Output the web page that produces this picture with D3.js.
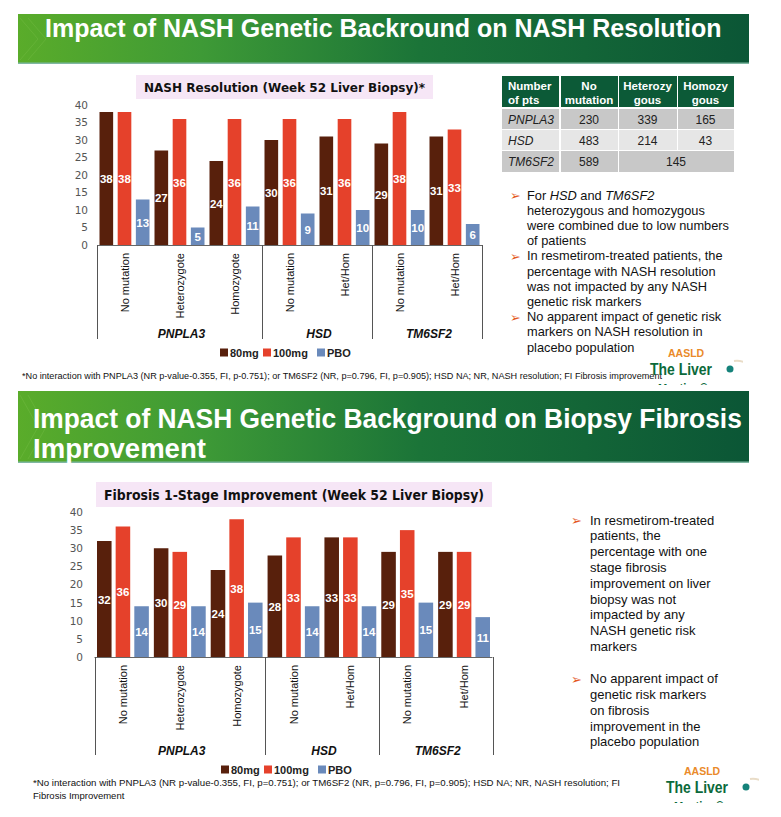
<!DOCTYPE html>
<html>
<head>
<meta charset="utf-8">
<script src="https://cdn.jsdelivr.net/npm/d3@7"></script>
<style>
  html, body { margin: 0; padding: 0; background: #fff; }
  svg { display: block; }
</style>
</head>
<body>
<svg id="slide" width="781" height="817"></svg>
<script>
// ---------------- DATA ----------------
const categories = ["No mutation", "Heterozygote", "Homozygote", "No mutation", "Het/Hom", "No mutation", "Het/Hom"];
const genes = ["PNPLA3", "HSD", "TM6SF2"];
const geneSizes = [3, 2, 2];
const seriesNames = ["80mg", "100mg", "PBO"];
const seriesColors = ["#58200c", "#e5412b", "#6a8abb"];
const yTicks = [0, 5, 10, 15, 20, 25, 30, 35, 40];

// NASH resolution (%)
const nash80 = [38, 27, 24, 30, 31, 29, 31];
const nash100 = [38, 36, 36, 36, 36, 38, 33];
const nashPBO = [13, 5, 11, 9, 10, 10, 6];

// Fibrosis 1-stage improvement (%)
const fib80 = [32, 30, 24, 28, 33, 29, 29];
const fib100 = [36, 29, 38, 33, 33, 35, 29];
const fibPBO = [14, 14, 15, 14, 14, 15, 11];

// Number of patients table
const tableHeader = [["Number", "of pts"], ["No", "mutation"], ["Heterozy", "gous"], ["Homozy", "gous"]];
const tableGenes = ["PNPLA3", "HSD", "TM6SF2"];
const tableNoMut = ["230", "483", "589"];
const tableHet = ["339", "214", "145"];
const tableHom = ["165", "43", ""];

const title1 = "Impact of NASH Genetic Backround on NASH Resolution";
const title2a = "Impact of NASH Genetic Background on Biopsy Fibrosis";
const title2b = "Improvement";
const chartTitle1 = "NASH Resolution (Week 52 Liver Biopsy)*";
const chartTitle2 = "Fibrosis 1-Stage Improvement (Week 52 Liver Biopsy)";
const footnote1 = "*No interaction with PNPLA3 (NR p-value-0.355, FI, p-0.751); or TM6SF2 (NR, p=0.796, FI, p=0.905); HSD NA; NR, NASH resolution; FI Fibrosis improvement";
const footnote2a = "*No interaction with PNPLA3 (NR p-value-0.355, FI, p=0.751); or TM6SF2 (NR, p=0.796, FI, p=0.905); HSD NA; NR, NASH resolution; FI";
const footnote2b = "Fibrosis Improvement";

const bullets1 = [
  [[["For ", false], ["HSD", true], [" and ", false], ["TM6SF2", true]], "heterozygous and homozygous", "were combined due to low numbers", "of patients"],
  ["In resmetirom-treated patients, the", "percentage with NASH resolution", "was not impacted by any NASH", "genetic risk markers"],
  ["No apparent impact of genetic risk", "markers on NASH resolution in", "placebo population"]
];
const bullets2 = [
  ["In resmetirom-treated", "patients, the", "percentage with one", "stage fibrosis", "improvement on liver", "biopsy was not", "impacted by any", "NASH genetic risk", "markers"],
  ["No apparent impact of", "genetic risk markers", "on fibrosis", "improvement in the", "placebo population"]
];

// ---------------- DRAWING ----------------
const svg = d3.select("#slide");
const defs = svg.append("defs");
const grad = defs.append("linearGradient").attr("id", "bannerGrad").attr("x1", "0").attr("x2", "1").attr("y1", "0").attr("y2", "0");
grad.append("stop").attr("offset", "0%").attr("stop-color", "#5aac2a");
grad.append("stop").attr("offset", "25%").attr("stop-color", "#3e9a36");
grad.append("stop").attr("offset", "55%").attr("stop-color", "#1b7438");
grad.append("stop").attr("offset", "100%").attr("stop-color", "#0b5636");

const narrow = "'Liberation Sans Narrow', 'Arial Narrow', 'Liberation Sans', Arial, sans-serif";
const sans = "'Liberation Sans', Arial, sans-serif";

// text squeezed horizontally to a target width (keeps its box inside the page)
function squeezedText(parent, str, x, y, fs, w, fill, weight) {
  const g = parent.append("g");
  const t = g.append("text").attr("x", 0).attr("y", 0).text(str)
    .attr("font-family", narrow).attr("font-weight", weight || "bold").attr("font-size", fs).attr("fill", fill);
  const nat = t.node().getComputedTextLength();
  const sx = Math.min(1, w / nat);
  g.attr("transform", `translate(${x},${y}) scale(${sx},1)`);
  return g;
}

function banner(y, h, lines) {
  const g = svg.append("g");
  g.append("rect").attr("x", 18).attr("y", y).attr("width", 731).attr("height", h).attr("fill", "url(#bannerGrad)");
  [0, 8].forEach(o => {
    g.append("path")
      .attr("d", `M${20 + o},${y + 4} L${38 + o},${y + h / 2} L${20 + o},${y + h - 4}`)
      .attr("fill", "none").attr("stroke", "#7cc04a").attr("stroke-opacity", 0.35).attr("stroke-width", 1);
  });
  g.append("rect").attr("x", 18).attr("y", y + h - 1.5).attr("width", 731).attr("height", 1.5).attr("fill", "#7fb7a2");
  lines.forEach(l => squeezedText(g, l.t, l.x, l.y, l.fs, l.w, "#fff"));
}

banner(14, 50, [{ t: title1, x: 45, y: 37, fs: 25, w: 683 }]);
banner(391, 72, [{ t: title2a, x: 33, y: 428, fs: 28, w: 709 }, { t: title2b, x: 33, y: 458, fs: 28, w: 173 }]);

function drawChart(cfg) {
  const g = svg.append("g");
  const vals = [cfg.s80, cfg.s100, cfg.sPBO];

  g.append("rect").attr("x", cfg.tbox[0]).attr("y", cfg.tbox[1]).attr("width", cfg.tbox[2]).attr("height", cfg.tbox[3]).attr("fill", "#f6e6f6");
  g.append("text").attr("x", cfg.tbox[0] + cfg.tbox[2] / 2).attr("y", cfg.tbox[1] + cfg.tbox[3] / 2 + 5)
    .attr("text-anchor", "middle").attr("font-family", "'DejaVu Sans', Verdana, sans-serif").attr("font-weight", "bold")
    .attr("font-size", cfg.tfs).attr("fill", "#111").attr("textLength", cfg.tlen).attr("lengthAdjust", "spacingAndGlyphs")
    .text(cfg.title);

  const x0 = d3.scaleBand().domain(d3.range(categories.length)).range(cfg.xr).paddingInner(0).paddingOuter(0);
  const bw = x0.bandwidth();
  const x1 = d3.scaleBand().domain(seriesNames).range([cfg.inner[0], bw - cfg.inner[1]]).paddingInner(cfg.pad);
  const y = d3.scaleLinear().domain([0, 40]).range(cfg.yr);

  const yAxis = d3.axisLeft(y).tickValues(yTicks).tickSize(0).tickPadding(0);
  const ya = g.append("g").attr("transform", `translate(${cfg.ylabX},0)`).call(yAxis);
  ya.select(".domain").remove();
  ya.selectAll("text").attr("font-family", "'DejaVu Sans', Verdana, sans-serif").attr("font-size", 10.5).attr("fill", "#555");

  categories.forEach((c, i) => {
    seriesNames.forEach((s, j) => {
      const v = vals[j][i];
      const bx = x0(i) + x1(s);
      g.append("rect").attr("x", bx).attr("y", y(v)).attr("width", x1.bandwidth()).attr("height", y(0) - y(v))
        .attr("fill", seriesColors[j]);
      g.append("text").attr("x", bx + x1.bandwidth() / 2).attr("y", (y(v) + y(0)) / 2 + 4.5)
        .attr("text-anchor", "middle").attr("font-family", sans).attr("font-weight", "bold").attr("font-size", 11.5)
        .attr("fill", "#fff").text(v);
    });
  });

  g.append("line").attr("x1", cfg.xr[0]).attr("x2", cfg.xr[1]).attr("y1", y(0) + 0.5).attr("y2", y(0) + 0.5)
    .attr("stroke", "#666").attr("stroke-width", 1);

  categories.forEach((c, i) => {
    const cx = x0(i) + bw / 2;
    g.append("text").attr("transform", `translate(${cx + 4},${y(0) + cfg.catTop}) rotate(-90)`)
      .attr("text-anchor", "end").attr("font-family", sans).attr("font-size", 11).attr("fill", "#111").text(c);
  });

  let start = 0;
  const bounds = [0];
  geneSizes.forEach(n => { start += n; bounds.push(start); });
  bounds.forEach(b => {
    const bx = b < categories.length ? x0(b) : cfg.xr[1];
    g.append("line").attr("x1", Math.round(bx) + 0.5).attr("x2", Math.round(bx) + 0.5).attr("y1", y(0)).attr("y2", cfg.sepBottom)
      .attr("stroke", "#555").attr("stroke-width", 1);
  });
  genes.forEach((gname, k) => {
    const a = x0(bounds[k]);
    const b = bounds[k + 1] < categories.length ? x0(bounds[k + 1]) : cfg.xr[1];
    g.append("text").attr("x", (a + b) / 2 + 2).attr("y", cfg.geneY).attr("text-anchor", "middle")
      .attr("font-family", sans).attr("font-weight", "bold").attr("font-style", "italic").attr("font-size", 12)
      .attr("fill", "#111").text(gname);
  });

  const lx = [cfg.legX, cfg.legX + 43, cfg.legX + 97];
  seriesNames.forEach((s, j) => {
    g.append("rect").attr("x", lx[j]).attr("y", cfg.legY - 4.5).attr("width", 8).attr("height", 8).attr("fill", seriesColors[j]);
    g.append("text").attr("x", lx[j] + 10).attr("y", cfg.legY + 4).attr("font-family", sans).attr("font-weight", "bold")
      .attr("font-size", 11).attr("fill", "#222").text(s);
  });
}

drawChart({
  title: chartTitle1, tbox: [136, 75, 297, 24], tfs: 13, tlen: 281,
  s80: nash80, s100: nash100, sPBO: nashPBO,
  xr: [97, 482], inner: [2.5, 2.5], pad: 0.25, yr: [245, 105], ylabX: 88,
  catTop: 8, sepBottom: 339, geneY: 338, legX: 220, legY: 353
});

drawChart({
  title: chartTitle2, tbox: [96, 482, 396, 25], tfs: 14, tlen: 380,
  s80: fib80, s100: fib100, sPBO: fibPBO,
  xr: [94.5, 492.5], inner: [2.5, 2.5], pad: 0.22, yr: [657, 512], ylabX: 83,
  catTop: 8, sepBottom: 755, geneY: 755, legX: 221, legY: 770
});

// ---------------- TABLE ----------------
(function table() {
  const g = svg.append("g");
  const cols = [502, 560, 618, 677, 734];
  const hy = [76, 107];
  const rows = [[109, 129], [130, 150], [151, 172]];
  const rowFill = ["#c8c8c8", "#e6e6e6", "#c8c8c8"];
  tableHeader.forEach((h, c) => {
    g.append("rect").attr("x", cols[c] + (c ? 1 : 0)).attr("y", hy[0]).attr("width", cols[c + 1] - cols[c] - 1).attr("height", hy[1] - hy[0]).attr("fill", "#0c5a37");
    h.forEach((line, k) => {
      g.append("text").attr("x", c === 0 ? cols[0] + 6 : (cols[c] + cols[c + 1]) / 2).attr("y", 90 + k * 13.5)
        .attr("text-anchor", c === 0 ? "start" : "middle").attr("font-family", sans).attr("font-weight", "bold")
        .attr("font-size", 11.5).attr("fill", "#fff").text(line);
    });
  });
  tableGenes.forEach((gn, r) => {
    const cells = [gn, tableNoMut[r], tableHet[r], tableHom[r]];
    const merged = tableHom[r] === "";
    const ty = (rows[r][0] + rows[r][1]) / 2 + 4.5;
    for (let c = 0; c < 4; c++) {
      if (merged && c === 3) continue;
      const x2 = merged && c === 2 ? cols[4] : cols[c + 1];
      g.append("rect").attr("x", cols[c] + (c ? 1 : 0)).attr("y", rows[r][0]).attr("width", x2 - cols[c] - 1).attr("height", rows[r][1] - rows[r][0])
        .attr("fill", rowFill[r]);
      g.append("text").attr("x", c === 0 ? cols[0] + 6 : (cols[c] + x2) / 2).attr("y", ty)
        .attr("text-anchor", c === 0 ? "start" : "middle").attr("font-family", sans).attr("font-style", c === 0 ? "italic" : "normal")
        .attr("font-size", 12).attr("fill", "#222").text(cells[c]);
    }
  });
})();

// ---------------- BULLETS ----------------
function bulletList(list, arrowX, textX, startY, lh, gapExtra, fs) {
  const g = svg.append("g");
  let yy = startY;
  list.forEach(item => {
    g.append("text").attr("x", arrowX).attr("y", yy + 5).attr("font-family", "'DejaVu Sans', sans-serif").attr("font-size", fs)
      .attr("fill", "#e4581f").text("\u27A2");
    item.forEach(line => {
      const t = g.append("text").attr("x", textX).attr("y", yy + 4.5).attr("font-family", sans).attr("font-size", fs).attr("fill", "#111");
      if (Array.isArray(line)) {
        line.forEach(seg => t.append("tspan").attr("font-style", seg[1] ? "italic" : "normal").text(seg[0]));
      } else t.text(line);
      yy += lh;
    });
    yy += gapExtra;
  });
}
bulletList(bullets1, 510, 527, 195, 15.2, 0, 12.8);
bulletList(bullets2, 571, 590, 520, 15.8, 16.5, 13);

// ---------------- FOOTNOTES ----------------
svg.append("text").attr("x", 22).attr("y", 379).attr("font-family", sans).attr("font-size", 9).attr("fill", "#111")
  .attr("textLength", 640).attr("lengthAdjust", "spacingAndGlyphs").text(footnote1);
svg.append("text").attr("x", 33).attr("y", 786).attr("font-family", sans).attr("font-size", 9.5).attr("fill", "#111")
  .attr("textLength", 587).attr("lengthAdjust", "spacingAndGlyphs").text(footnote2a);
svg.append("text").attr("x", 33).attr("y", 799).attr("font-family", sans).attr("font-size", 9.5).attr("fill", "#111").text(footnote2b);

// ---------------- LOGOS ----------------
function logo(x, y, id) {
  const cp = defs.append("clipPath").attr("id", id);
  cp.append("rect").attr("x", x - 5).attr("y", y - 14).attr("width", 100).attr("height", 42);
  const g = svg.append("g").attr("clip-path", `url(#${id})`);
  g.append("text").attr("x", x + 20).attr("y", y).attr("font-family", sans).attr("font-weight", "bold").attr("font-size", 10.5).attr("fill", "#ea8a2a").text("AASLD");
  squeezedText(g, "The Liver", x + 2, y + 18, 16, 62, "#0b6a3b");
  squeezedText(g, "Meeting\u00AE", x + 10, y + 37, 14, 50, "#0b6a3b");
  g.append("circle").attr("cx", x + 82).attr("cy", y + 12).attr("r", 3.5).attr("fill", "#15827a");
  g.append("path").attr("d", `M${x + 86},${y + 4} Q${x + 92},${y + 3} ${x + 98},${y + 6}`).attr("fill", "none").attr("stroke", "#e9dcc7").attr("stroke-width", 2);
}
logo(648, 357, "lg1");
logo(664, 775, "lg2");
</script>
</body>
</html>
